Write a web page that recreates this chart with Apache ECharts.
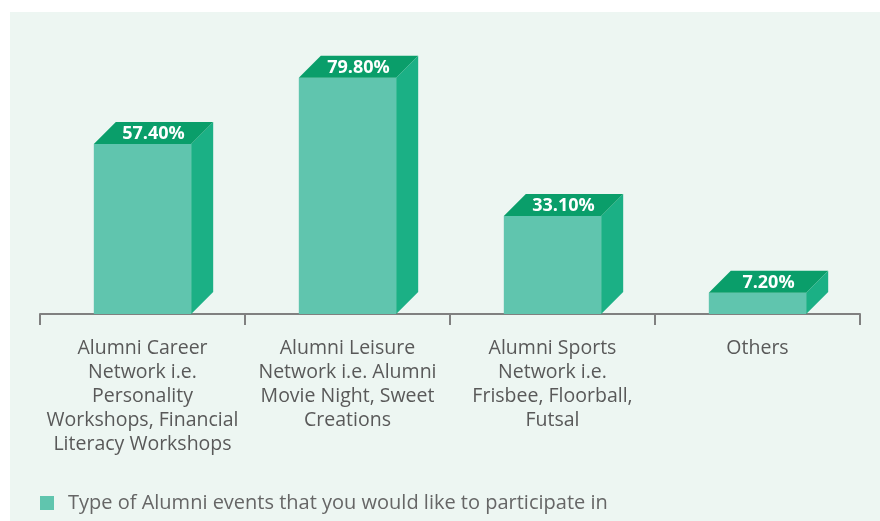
<!DOCTYPE html>
<html>
<head>
<meta charset="utf-8">
<script src="https://cdn.jsdelivr.net/npm/echarts@6/dist/echarts.min.js"></script>
<style>
  html, body { margin: 0; padding: 0; background: #fff; }
  #wrap { position: relative; width: 880px; height: 521px; }
  #panel { position: absolute; left: 10px; top: 12px; right: 0; bottom: 0; background: #edf6f2; }
  #chart { position: absolute; left: 0; top: 0; width: 880px; height: 521px; }
</style>
</head>
<body>
<div id="wrap">
  <div id="panel"></div>
  <div id="chart"></div>
</div>
<script>
const categories = [
  'Alumni Career\nNetwork i.e.\nPersonality\nWorkshops, Financial\nLiteracy Workshops',
  'Alumni Leisure\nNetwork i.e. Alumni\nMovie Night, Sweet\nCreations',
  'Alumni Sports\nNetwork i.e.\nFrisbee, Floorball,\nFutsal',
  'Others'
];
const values = [57.4, 79.8, 33.1, 7.2];
const seriesName = 'Type of Alumni events that you would like to participate in';

const frontColor = '#60c5ae';
const sideColor = '#1bb085';
const topColor = '#0a9e6a';
const fontFamily = '"Open Sans", Lato, sans-serif';

const chart = echarts.init(document.getElementById('chart'));

// 3D-looking bar: front face, right side, top face with the label
const renderBar = (params, api) => {
  const base = api.coord([api.value(0), 0]);
  const top = api.coord([api.value(0), api.value(1)]);
  const w = api.size([1, 0])[0] * 0.475;
  const d = 22;
  const x0 = base[0] - w / 2;
  const x1 = base[0] + w / 2;
  const y0 = base[1];
  const y1 = top[1];
  return {
    type: 'group',
    children: [
      {
        type: 'polygon',
        shape: { points: [[x0, y1], [x1, y1], [x1, y0], [x0, y0]] },
        style: { fill: frontColor }
      },
      {
        type: 'polygon',
        shape: { points: [[x1, y1], [x1 + d, y1 - d], [x1 + d, y0 - d], [x1, y0]] },
        style: { fill: sideColor }
      },
      {
        type: 'polygon',
        shape: { points: [[x0, y1], [x1, y1], [x1 + d, y1 - d], [x0 + d, y1 - d]] },
        style: { fill: topColor }
      },
      {
        type: 'text',
        style: {
          x: (x0 + x1 + d) / 2,
          y: y1 - d / 2 + 1,
          text: api.value(1).toFixed(2) + '%',
          fill: '#fff',
          font: 'bold 18px ' + fontFamily,
          align: 'center',
          verticalAlign: 'middle'
        }
      }
    ]
  };
};

chart.setOption({
  animation: false,
  backgroundColor: 'transparent',
  grid: { left: 40, right: 20, top: 18, bottom: 207 },
  legend: {
    left: 35,
    top: 488,
    itemWidth: 14,
    itemHeight: 14,
    icon: 'rect',
    data: [seriesName],
    textStyle: {
      color: '#666',
      fontSize: 20,
      fontFamily: fontFamily,
      padding: [0, 0, 0, 9]
    }
  },
  xAxis: {
    type: 'category',
    data: categories,
    boundaryGap: true,
    axisLine: { lineStyle: { color: '#808080', width: 2 } },
    axisTick: { show: true, length: 11, lineStyle: { color: '#808080', width: 2 } },
    axisLabel: {
      color: '#595959',
      fontSize: 19.5,
      lineHeight: 24,
      margin: 22,
      interval: 0,
      fontFamily: fontFamily
    }
  },
  yAxis: {
    type: 'value',
    min: 0,
    max: 100,
    show: false,
    splitLine: { show: false }
  },
  series: [{
    name: seriesName,
    type: 'custom',
    renderItem: renderBar,
    itemStyle: { color: frontColor },
    encode: { x: 0, y: 1 },
    data: values.map((v, i) => [i, v])
  }]
});
</script>
</body>
</html>
